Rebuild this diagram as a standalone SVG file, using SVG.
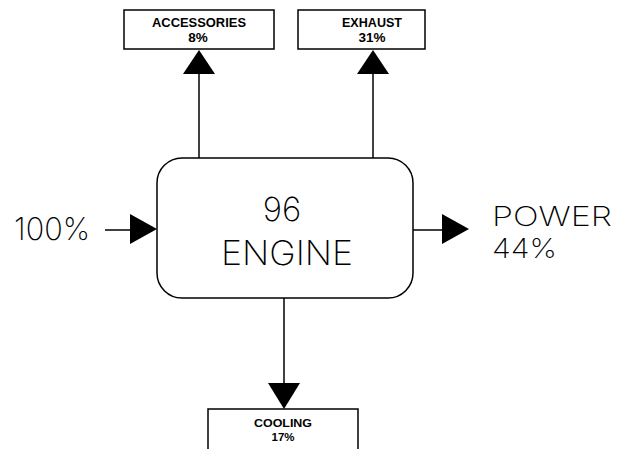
<svg xmlns="http://www.w3.org/2000/svg" width="620" height="449" viewBox="0 0 620 449">
  <style>
    .box { fill: #fff; stroke: #000; stroke-width: 1.5; }
    .line { stroke: #000; stroke-width: 1.5; fill: none; }
    .big { font-family: Inter, "DejaVu Sans", sans-serif; font-weight: 200; fill: #000; }
    .small { font-family: "Liberation Sans", Arial, sans-serif; font-weight: bold; font-size: 13.5px; fill: #000; text-anchor: middle; }
    .tiny { font-size: 11.5px; }
    .head { fill: #000; }
  </style>
  <rect width="620" height="449" fill="#fff"/>

  <!-- connectors -->
  <g id="connectors">
    <!-- engine to accessories -->
    <line class="line" x1="199" y1="158" x2="199" y2="73"/>
    <polygon class="head" points="199,50 183,74 215,74"/>
    <!-- engine to exhaust -->
    <line class="line" x1="373" y1="158" x2="373" y2="73"/>
    <polygon class="head" points="373,50 357,74 389,74"/>
    <!-- fuel input -->
    <line class="line" x1="105" y1="230" x2="131" y2="230"/>
    <polygon class="head" points="157,229 130,214 130,244"/>
    <!-- power output -->
    <line class="line" x1="413" y1="230" x2="443" y2="230"/>
    <polygon class="head" points="469,229 442,214 442,244"/>
    <!-- engine to cooling -->
    <line class="line" x1="284" y1="298" x2="284" y2="384"/>
    <polygon class="head" points="284,409 268,383 300,383"/>
  </g>

  <g id="accessories">
    <rect class="box" x="124" y="10" width="150" height="39"/>
    <text class="small" x="199" y="27" textLength="94" lengthAdjust="spacingAndGlyphs">ACCESSORIES</text>
    <text class="small" x="198" y="42">8%</text>
  </g>

  <g id="exhaust">
    <rect class="box" x="298" y="10" width="127" height="39"/>
    <text class="small" x="372" y="27" textLength="60" lengthAdjust="spacingAndGlyphs">EXHAUST</text>
    <text class="small" x="372" y="42">31%</text>
  </g>

  <g id="engine">
    <rect class="box" x="157" y="158" width="256" height="140" rx="25" ry="25"/>
    <text class="big" x="282" y="221" font-size="33" text-anchor="middle">96</text>
    <text class="big" x="221" y="265" font-size="34" textLength="132" lengthAdjust="spacingAndGlyphs">ENGINE</text>
  </g>

  <g id="input">
    <text class="big" x="14" y="240" font-size="31" textLength="76" lengthAdjust="spacingAndGlyphs">100%</text>
  </g>

  <g id="power">
    <text class="big" x="492" y="226" font-size="27" textLength="120" lengthAdjust="spacingAndGlyphs">POWER</text>
    <text class="big" x="492" y="258" font-size="27" textLength="65" lengthAdjust="spacingAndGlyphs">44%</text>
  </g>

  <g id="cooling">
    <path class="box" d="M208,449 V409 H358 V449"/>
    <text class="small tiny" x="283" y="427" textLength="58" lengthAdjust="spacingAndGlyphs">COOLING</text>
    <text class="small tiny" x="283" y="441">17%</text>
  </g>
</svg>
